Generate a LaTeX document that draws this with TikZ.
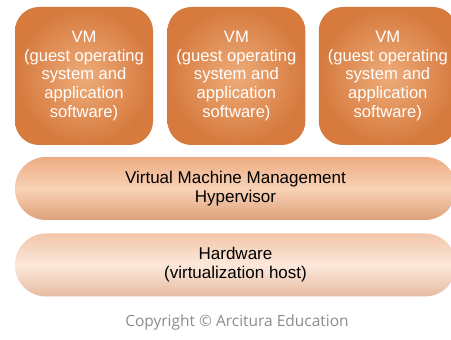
\documentclass[tikz,border=0pt]{standalone}
\usepackage{fontspec}
\setmainfont{Liberation Sans}
\newfontfamily\copyfont{Open Sans}
\usepackage{xcolor}
\usetikzlibrary{positioning}

\definecolor{vmdark}{RGB}{214,122,62}
\definecolor{vmlight}{RGB}{238,172,122}
\definecolor{hypedge}{RGB}{236,172,130}
\definecolor{hypmid}{RGB}{249,210,182}
\definecolor{hwedge}{RGB}{242,198,170}
\definecolor{hwmid}{RGB}{252,232,218}

\begin{document}
\begin{tikzpicture}[
    x=1pt, y=1pt,
    % Node styles
    vm/.style={rectangle, rounded corners=24pt, minimum width=138pt, minimum height=138pt, inner color=vmlight, outer color=vmdark, text=white, align=center, font=\fontsize{16.6}{18.8}\selectfont},
    layer/.style={rectangle, rounded corners=31pt, minimum width=441pt, minimum height=63pt, align=center, font=\fontsize{17}{19}\selectfont},
    hyper/.style={layer, top color=hypedge, bottom color=hypedge!94!black, middle color=hypmid},
    hw/.style={layer, top color=hwedge, bottom color=hwedge!95!black, middle color=hwmid},
]

\path[use as bounding box, fill=white] (0,0) rectangle (451,340);

% VM blocks
\node[vm] (vm1) at (84,264) {VM\\(guest operating\\system and\\application\\software)};
\node[vm, right=14pt of vm1] (vm2) {VM\\(guest operating\\system and\\application\\software)};
\node[vm, right=13pt of vm2] (vm3) {VM\\(guest operating\\system and\\application\\software)};

% Hypervisor and hardware layers
\node[hyper] (hyp) at (235.5,151.5) {Virtual Machine Management\\Hypervisor};
\node[hw] (hw) at (235.5,75) {Hardware\\(virtualization host)};

% Copyright line
\node[font=\copyfont\fontsize{15.5}{17}\selectfont, text=black!45] (copy) at (237,18) {Copyright © Arcitura Education};

\end{tikzpicture}
\end{document}
